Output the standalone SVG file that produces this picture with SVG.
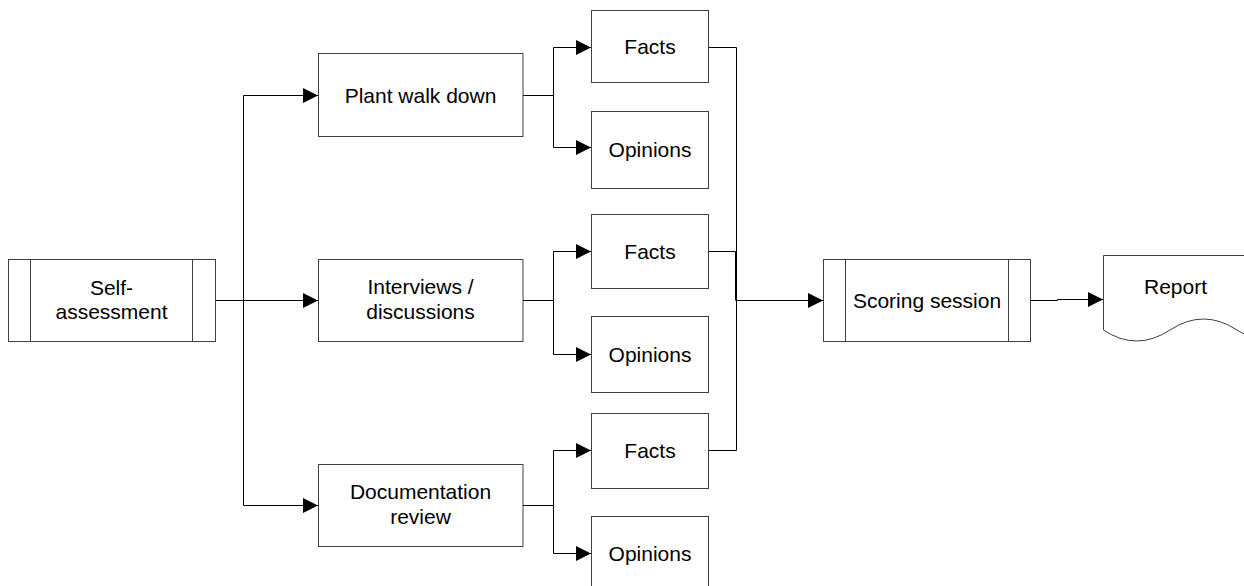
<svg xmlns="http://www.w3.org/2000/svg" width="1244" height="586" viewBox="0 0 1244 586">
<style>
.box{fill:#fff;stroke:#404040;stroke-width:1}
.edge{fill:none;stroke:#000;stroke-width:1}
.arr{marker-end:url(#ah)}
text{font-family:"Liberation Sans",Arial,sans-serif;font-size:21px;fill:#000;text-anchor:middle}
</style>
<defs>
<marker id="ah" markerUnits="userSpaceOnUse" markerWidth="15" markerHeight="15" refX="15" refY="7.5" orient="auto">
<path d="M0,0 L15,7.5 L0,15 Z" fill="#000"/>
</marker>
</defs>
<rect width="1244" height="586" fill="#fff"/>
<g id="connectors">
<path class="edge" d="M215.5,300.5 H318"/>
<path class="edge arr" d="M243.5,300.5 V95.5 H318"/>
<path class="edge arr" d="M243.5,300.5 H318"/>
<path class="edge arr" d="M243.5,300.5 V505.5 H318"/>
<path class="edge arr" d="M523,95.5 H553.5 V47.5 H591"/>
<path class="edge arr" d="M553.5,95.5 V147.5 H591"/>
<path class="edge arr" d="M523,300.5 H553.5 V251.5 H591"/>
<path class="edge arr" d="M553.5,300.5 V354.5 H591"/>
<path class="edge arr" d="M523,505.5 H553.5 V450.5 H591"/>
<path class="edge arr" d="M553.5,505.5 V553.5 H591"/>
<path class="edge" d="M708,47.5 H736.5 V450.5 H708"/>
<path class="edge" d="M708,251.5 H735.5 V300.5"/>
<path class="edge arr" d="M736.5,300.5 H823"/>
<path class="edge arr" d="M1030,300.5 H1057.5 V299.5 H1103"/>
</g>
<g id="self-assessment">
<rect class="box" x="8.5" y="259.5" width="207" height="82"/>
<path class="box" d="M30.5,259.5 V341.5 M192.5,259.5 V341.5"/>
<text x="111.5" y="295">Self-</text>
<text x="111.5" y="319">assessment</text>
</g>
<g id="plant-walk-down">
<rect class="box" x="318.5" y="53.5" width="204.5" height="83"/>
<text x="420.5" y="102.5">Plant walk down</text>
</g>
<g id="interviews">
<rect class="box" x="318.5" y="259.5" width="204.5" height="82"/>
<text x="420.5" y="293.5">Interviews /</text>
<text x="420.5" y="318.5">discussions</text>
</g>
<g id="documentation-review">
<rect class="box" x="318.5" y="464.5" width="204.5" height="82"/>
<text x="420.5" y="498.5">Documentation</text>
<text x="420.5" y="523.5">review</text>
</g>
<g id="facts-1">
<rect class="box" x="591.5" y="10.5" width="117" height="72"/>
<text x="650" y="54">Facts</text>
</g>
<g id="opinions-1">
<rect class="box" x="591.5" y="111.5" width="117" height="77"/>
<text x="650" y="157">Opinions</text>
</g>
<g id="facts-2">
<rect class="box" x="591.5" y="214.5" width="117" height="74"/>
<text x="650" y="258.5">Facts</text>
</g>
<g id="opinions-2">
<rect class="box" x="591.5" y="316.5" width="117" height="76"/>
<text x="650" y="362">Opinions</text>
</g>
<g id="facts-3">
<rect class="box" x="591.5" y="413.5" width="117" height="75"/>
<text x="650" y="458">Facts</text>
</g>
<g id="opinions-3">
<rect class="box" x="591.5" y="516.5" width="117" height="76"/>
<text x="650" y="561">Opinions</text>
</g>
<g id="scoring-session">
<rect class="box" x="823.5" y="259.5" width="207" height="82"/>
<path class="box" d="M845.5,259.5 V341.5 M1008.5,259.5 V341.5"/>
<text x="927" y="308">Scoring session</text>
</g>
<g id="report">
<path class="box" d="M1103.5,255.5 H1304 V330 Q1270.5,352 1237,330 Q1203.5,308 1170,330 Q1136.5,352 1103.5,330 Z"/>
<text x="1175.5" y="293.5">Report</text>
</g>
</svg>
